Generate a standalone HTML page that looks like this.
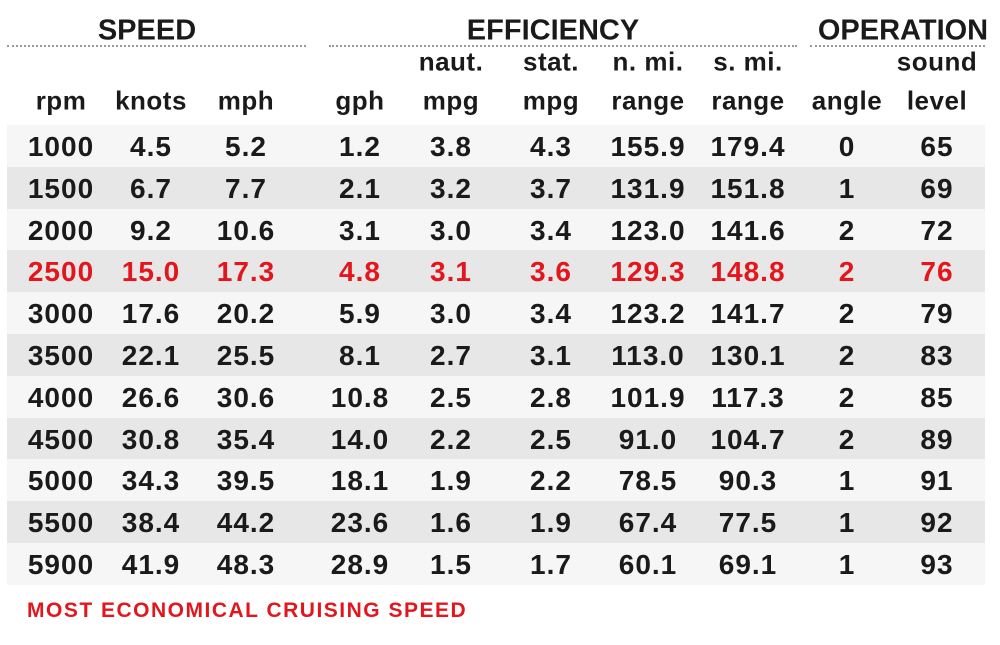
<!DOCTYPE html>
<html><head><meta charset="utf-8">
<style>
body{margin:0;width:1000px;height:645px;background:#fff;position:relative;overflow:hidden;font-family:"Liberation Sans",Arial,sans-serif;font-weight:bold;color:#1a1a1a}
.t{position:absolute;white-space:nowrap;transform:translate(-50%,-50%)}
.title{font-size:29px}
.hdr{font-size:26px;letter-spacing:0.5px}
.cell{font-size:28px;letter-spacing:1px}
.row{position:absolute;left:7px;width:978px;height:42px}
.dots{position:absolute;top:45px;height:0;border-top:2px dotted #999}
</style></head>
<body>
<div class="t title" style="left:147px;top:31px">SPEED</div>
<div class="t title" style="left:553px;top:31px">EFFICIENCY</div>
<div class="t title" style="left:903px;top:31px">OPERATION</div>
<div class="dots" style="left:7px;width:299px"></div>
<div class="dots" style="left:329px;width:468px"></div>
<div class="dots" style="left:810px;width:175px"></div>
<div id="tbl"></div>
<div style="position:absolute;left:27px;top:599px;font-size:21px;letter-spacing:1.5px;color:#e3161d">MOST ECONOMICAL CRUISING SPEED</div>
<script>
const colCenters=[61,151,246,360,451,551,648,748,847,937];
const head1=["","","","","naut.","stat.","n. mi.","s. mi.","","sound"];
const head2=["rpm","knots","mph","gph","mpg","mpg","range","range","angle","level"];
const rows=[
["1000","4.5","5.2","1.2","3.8","4.3","155.9","179.4","0","65"],
["1500","6.7","7.7","2.1","3.2","3.7","131.9","151.8","1","69"],
["2000","9.2","10.6","3.1","3.0","3.4","123.0","141.6","2","72"],
["2500","15.0","17.3","4.8","3.1","3.6","129.3","148.8","2","76"],
["3000","17.6","20.2","5.9","3.0","3.4","123.2","141.7","2","79"],
["3500","22.1","25.5","8.1","2.7","3.1","113.0","130.1","2","83"],
["4000","26.6","30.6","10.8","2.5","2.8","101.9","117.3","2","85"],
["4500","30.8","35.4","14.0","2.2","2.5","91.0","104.7","2","89"],
["5000","34.3","39.5","18.1","1.9","2.2","78.5","90.3","1","91"],
["5500","38.4","44.2","23.6","1.6","1.9","67.4","77.5","1","92"],
["5900","41.9","48.3","28.9","1.5","1.7","60.1","69.1","1","93"]];
const highlight=3;
const tb=document.getElementById('tbl');
const top0=125,rh=41.8;
function txt(s,x,y,cls,color,name){const d=document.createElement('div');d.className='t '+cls;d.textContent=s;d.style.left=x+'px';d.style.top=y+'px';if(color)d.style.color=color;


tb.appendChild(d);}
head1.forEach((h,i)=>{if(h)txt(h,colCenters[i],62,'hdr',null,'header-top-'+i);});
head2.forEach((h,i)=>txt(h,colCenters[i],101,'hdr',null,'header-'+h));
rows.forEach((r,j)=>{const y=top0+j*rh;
const bg=document.createElement('div');bg.className='row';bg.style.top=y+'px';bg.style.height=rh+'px';bg.style.background=j%2?'#e7e7e7':'#f6f6f6';


tb.appendChild(bg);
r.forEach((v,i)=>txt(v,colCenters[i],y+rh/2+1,'cell',j===highlight?'#e3161d':null,'cell-'+r[0]+'-'+i));});
</script>
</body></html>
